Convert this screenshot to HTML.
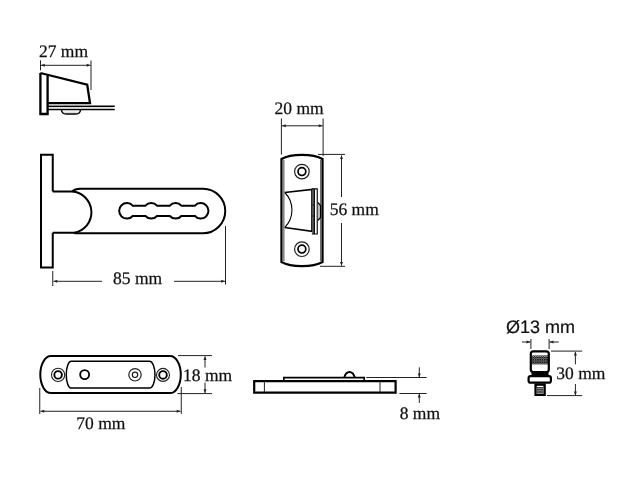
<!DOCTYPE html>
<html><head><meta charset="utf-8">
<style>
html,body{margin:0;padding:0;background:#fff;width:640px;height:480px;overflow:hidden}
svg{display:block;will-change:transform}
.t{font-family:"Liberation Serif",serif;font-size:17.5px;fill:#111;stroke:#111;stroke-width:0.25;text-rendering:geometricPrecision}
.s{font-family:"Liberation Sans",sans-serif;font-size:18px;fill:#111;stroke:#111;stroke-width:0.2;text-rendering:geometricPrecision}
.k{fill:none;stroke:#000;stroke-width:2}
.m{fill:none;stroke:#000;stroke-width:1.5}
.d{fill:none;stroke:#222;stroke-width:1}
.a{fill:#222}
</style></head>
<body>
<svg width="640" height="480" viewBox="0 0 640 480">
<rect width="640" height="480" fill="#fff"/>

<!-- ===== 1. top-left side view (27 mm) ===== -->
<text class="t" x="38.9" y="57">27 mm</text>
<path class="d" d="M40.5,60.3 V70.3 M91,60.5 V90 M41,65.3 H90.5"/>
<path class="a" d="M41,65.3 l3.8,-1.5 v3z M90.5,65.3 l-3.8,-1.5 v3z"/>
<path class="k" style="stroke-width:2.3" d="M40.4,73 L87.2,84.7 L90,103.2 L48,103.2 M40.4,73 V114 H47.6 V75"/>
<path class="m" d="M48,106.3 H114.8 M48,109.4 H114.8"/>
<path d="M49,104.9 H64.5 M67,104.9 H75.5 M78,104.9 H89" stroke="#bbb" stroke-width="0.9" fill="none"/><path d="M49,107.9 H113" stroke="#ccc" stroke-width="1" fill="none"/>
<path class="m" d="M61.5,110 Q62,114 66,114 H76 Q80,114 80.5,110"/>
<path d="M64,112.2 H78" stroke="#ccc" stroke-width="0.9" fill="none"/>

<!-- ===== 2. bracket with slotted arm (85 mm) ===== -->
<path class="k" d="M52.75,191.6 V154.75 H41 V267.6 H52.75 V232.7 M52.75,191.6 H72 M52.75,232.7 H74"/>
<path class="k" d="M72,191.6 A20.7,20.7 0 0 1 74,232.7"/>
<path class="k" d="M72,191.6 Q75,188.75 80,188.75 H203 A22.25,22.25 0 0 1 203,233.25 H78 Q75,233.25 74,233"/>
<path class="k" d="M132.69,205.7 L145.46,205.7 A7.75,7.75 0 0 1 157.04,205.7 L169.81,205.7 A7.75,7.75 0 0 1 181.39,205.7 L194.91,205.7 A7.75,7.75 0 1 1 194.91,216.0 L181.39,216.0 A7.75,7.75 0 0 1 169.81,216.0 L157.04,216.0 A7.75,7.75 0 0 1 145.46,216.0 L132.69,216.0 A7.75,7.75 0 1 1 132.69,205.7 Z"/>
<path class="d" d="M52.75,271 V286 M53.5,281.3 H102 M174,281.3 H225 M225.5,226 V284.5"/>
<path class="a" d="M53.5,281.3 l3.8,-1.5 v3z M225,281.3 l-3.8,-1.5 v3z"/>
<text class="t" x="113" y="284.4">85 mm</text>

<!-- ===== 3. plate 20 x 56 ===== -->
<text class="t" x="274.6" y="114.1">20 mm</text>
<path class="d" d="M281.4,118.5 V154.5 M323.1,118.5 V156 M282,125.8 H322.6"/>
<path class="a" d="M282,125.8 l3.8,-1.5 v3z M322.6,125.8 l-3.8,-1.5 v3z"/>
<path class="k" style="stroke-width:2.3" d="M281.5,262 V159 A24,8.5 0 0 1 322.5,159 V262 A24,8.5 0 0 1 281.5,262 Z"/>
<path d="M283.6,160 V261" stroke="#888" stroke-width="2" fill="none"/><path d="M320.7,160 V261" stroke="#666" stroke-width="1.3" fill="none"/>
<!-- holes -->
<circle cx="301.9" cy="171.6" r="7.3" fill="none" stroke="#222" stroke-width="1.2"/>
<circle cx="301.9" cy="171.6" r="3.9" fill="none" stroke="#000" stroke-width="1.7"/>
<circle cx="301.9" cy="249.2" r="7.3" fill="none" stroke="#222" stroke-width="1.2"/>
<circle cx="301.9" cy="249.1" r="3.9" fill="none" stroke="#000" stroke-width="1.7"/>
<!-- inner mechanism -->
<path class="m" d="M284.8,192.5 L311.9,189.4 V231.3 L284.8,227.5"/>
<path d="M284.8,192.5 A25,25 0 0 1 284.8,227.5" fill="none" stroke="#000" stroke-width="1.1"/>
<rect x="312.2" y="189.2" width="1.9" height="44.6" fill="#555"/>
<path d="M312.2,205 H314 M312.2,216 H314" stroke="#111" stroke-width="0.8"/>
<path d="M311.8,188.9 H317.8 M311.8,234 H317.8 M314.4,189 V234 M317.25,188.5 V234.4" fill="none" stroke="#000" stroke-width="1.1"/>
<path d="M317.8,202.5 L320.6,205.5 V217.5 L317.8,220.5" fill="#bbb" stroke="#000" stroke-width="1.2"/>
<path class="d" d="M318,154.4 H345 M320,266.3 H345 M341.5,155.5 V197 M341.5,223 V265.5"/>
<path class="a" d="M341.5,155.2 l-1.5,3.8 h3z M341.5,265.8 l-1.5,-3.8 h3z"/>
<text class="t" x="329.7" y="215.4">56 mm</text>

<!-- ===== 4. 70 mm plate ===== -->
<path class="k" d="M50.9,356 H170 A10.8,18.55 0 0 1 170,393.1 H50.9 A10.6,18.55 0 0 1 50.9,356 Z"/>
<path class="m" d="M71.25,361.25 H149.5 A5.5,13.42 0 0 1 149.5,388.1 H71.25 A5,13.42 0 0 1 71.25,361.25 Z"/>
<circle cx="58.1" cy="374.9" r="6.6" fill="none" stroke="#222" stroke-width="1.1"/>
<circle cx="58.1" cy="374.9" r="3.75" fill="none" stroke="#000" stroke-width="1.9"/>
<circle cx="84.65" cy="374.6" r="4.5" fill="none" stroke="#000" stroke-width="1.8"/>
<circle cx="135" cy="374.8" r="6.2" fill="none" stroke="#222" stroke-width="1.2"/>
<circle cx="135" cy="374.8" r="2.7" fill="none" stroke="#222" stroke-width="1.2"/>
<circle cx="163" cy="374.9" r="6.5" fill="none" stroke="#222" stroke-width="1.1"/>
<circle cx="163" cy="374.9" r="3.8" fill="none" stroke="#000" stroke-width="1.9"/>
<path class="d" d="M178,355.6 H212 M177.5,393.6 H212 M205,356.5 V367.5 M205,382.5 V393 M39.75,388 V414 M181.25,387 V414 M40.5,411.25 H180.5"/>
<path class="a" d="M205,356.2 l-1.5,3.8 h3z M205,393.1 l-1.5,-3.8 h3z M40.5,411.25 l3.8,-1.5 v3z M180.5,411.25 l-3.8,-1.5 v3z"/>
<text class="t" x="183" y="381.1">18 mm</text>
<text class="t" x="76.25" y="429">70 mm</text>

<!-- ===== 5. side profile 8 mm ===== -->
<path class="k" style="stroke-width:2.2" d="M254.2,381.2 H395.6 V392.65 H254.2 Z"/>
<path d="M264.4,382 V392 M380,382 V392" stroke="#222" stroke-width="1" fill="none"/>
<path d="M283.8,380.5 V377.6 H364.2 V380.5" fill="none" stroke="#000" stroke-width="1.6"/>
<path d="M344.2,377.5 C345.5,373 347.5,372 349.5,372 C351.5,372 353.5,373 354.8,377.5" fill="none" stroke="#000" stroke-width="1.9"/>
<path class="d" d="M366.3,377.5 H426.6 M399.4,393.5 H426.6 M419.3,367.3 V377 M419.3,394 V403"/>
<path class="a" d="M419.3,377.2 l-1.5,-3.8 h3z M419.3,393.8 l-1.5,3.8 h3z"/>
<text class="t" x="399.7" y="419.4">8 mm</text>

<!-- ===== 6. knob ===== -->
<text class="s" x="506" y="333">Ø13 mm</text>
<path class="d" d="M530.9,339 V349 M549.1,339 V349 M522,342 H530.4 M549.5,342 H558.75"/>
<path class="a" d="M530.4,342 l-3.8,-1.5 v3z M549.6,342 l3.8,-1.5 v3z"/>
<defs><pattern id="kn" patternUnits="userSpaceOnUse" x="531" y="355.5" width="2.3" height="2.2"><rect width="2.3" height="2.2" fill="#e8e8e8"/><path d="M0,0 L2.3,2.2 M2.3,0 L0,2.2" stroke="#000" stroke-width="0.75"/></pattern></defs>
<rect x="531.6" y="355.4" width="17" height="9" fill="url(#kn)"/>
<rect x="530.8" y="351.3" width="18" height="20.7" rx="2.5" fill="none" stroke="#000" stroke-width="2.2"/>
<rect x="531.5" y="372" width="17" height="3.8" fill="#000"/>
<rect x="528.6" y="376.1" width="22.3" height="6.6" rx="2" fill="none" stroke="#000" stroke-width="2.2"/>
<rect x="535.6" y="384.6" width="9" height="10.2" fill="none" stroke="#000" stroke-width="2.4"/>
<rect x="536.6" y="387.4" width="7" height="6.4" fill="#888"/><path d="M536.5,387.6 H543.5 M536.5,389.8 H543.5 M536.5,392 H543.5" stroke="#222" stroke-width="0.9" fill="none"/>
<path class="d" d="M551,351.1 H582.2 M547,395.6 H582.2 M575.4,352 V364.4 M575.4,384 V395"/>
<path class="a" d="M575.4,351.6 l-1.5,3.8 h3z M575.4,395.2 l-1.5,-3.8 h3z"/>
<text class="t" x="556.3" y="379">30 mm</text>
</svg>
</body></html>
